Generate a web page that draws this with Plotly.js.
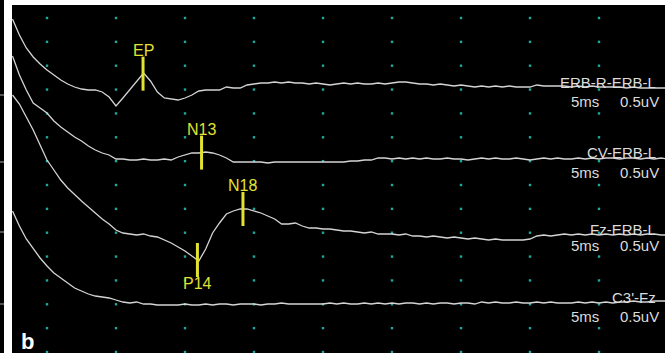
<!DOCTYPE html>
<html>
<head>
<meta charset="utf-8">
<script src="https://cdn.plot.ly/plotly-3.0.1.min.js"></script>
<style>html,body{margin:0;padding:0;background:#fff;}#chart{width:667px;height:353px;}</style>
</head>
<body>
<div id="chart"></div>
<script>
// ---- DATA ----
const timeMs = [-2.5,-2,-1.5,-1,-0.5,0,0.5,1,1.5,2,2.5,3,3.5,4,4.5,5,5.5,6,6.5,7,7.5,8,8.5,9,9.5,10,10.5,11,11.5,12,12.5,13,13.5,14,14.5,15,15.5,16,16.5,17,17.5,18,18.5,19,19.5,20,20.5,21,21.5,22,22.5,23,23.5,24,24.5,25,25.5,26,26.5,27,27.5,28,28.5,29,29.5,30,30.5,31,31.5,32,32.5,33,33.5,34,34.5,35,35.5,36,36.5,37,37.5,38,38.5,39,39.5,40,40.5,41,41.5,42,42.5,43,43.5,44,44.5,45];

const erbR_erbL = [76,60,47,38,31,25,20,15,11,8, 6,5,5,3,-2,-11,-3,5,14,22, 14,3,-3,-4,-5,-3,0,4,5,5, 5,8,7,7,10,11,12,12,13,12, 13,12,12,11,12,11,10,11,12,11, 12,11,11,12,11,12,13,13,12,11, 11,10,11,10,9,10,9,8,9,8, 9,8,9,8,8,8,10,9,9,9, 9,8,9,8,9,8,8,8,8,7, 8,7,7,7,7,7];
const cv_erbL = [106,87,72,59,54,49,41,35,30,25, 21,16,12,9,7,3,3,2,2,3, 2,2,3,2,5,7,9,9,10,9, 7,4,0,0,0,0,0,-1,0,0, 0,0,0,0,0,0,0,0,0,1, 1,2,2,4,4,3,4,3,4,3, 4,3,3,4,3,3,2,3,4,3, 4,3,3,4,3,2,3,4,3,4, 3,3,4,3,4,3,4,4,3,4, 4,3,4,3,4,3];
const fz_erbL = [137,128,115,102,87,72,62,52,44,37, 31,25,19,13,8,2,-1,-2,-3,-2, -4,-5,-8,-11,-15,-19,-24,-29,-17,-1, 9,18,21,23,23,21,19,16,13,8, 8,9,6,4,4,3,3,2,1,1, 0,-1,0,-2,-2,-2,-3,-2,-4,-4, -5,-4,-5,-6,-5,-6,-7,-6,-7,-8, -7,-8,-8,-8,-8,-7,-4,-3,-4,-3, -2,-3,-2,-3,-2,-3,-2,-3,-2,-3, -2,-3,-2,-2,-3,-3];
const c3_fz = [93,78,65,55,46,38,31,26,21,16, 13,10,8,7,6,4,2,1,2,0, 0,-1,-1,-1,-1,0,-1,-1,0,-1, 0,0,-1,0,0,0,-1,0,0,1, 0,0,0,0,0,0,1,0,1,0, 0,1,0,1,0,1,0,1,1,0, 1,0,1,1,0,1,1,0,2,1, 2,1,1,2,1,1,2,1,2,1, 1,1,2,1,2,1,2,1,2,2, 3,2,2,3,3,3];

const channelNames = ['ERB-R-ERB-L', 'CV-ERB-L', 'Fz-ERB-L', "C3'-Fz"];
const timeBaseLabel = '5ms';
const gainLabel = '0.5uV';

const peakNames = ['EP', 'N13', 'P14', 'N18'];
const peakLatencyMs = [6.96, 11.2, 10.9, 14.2];
const peakChannel = [0, 1, 2, 2];
const peakIsPositive = [false, false, true, false];

const panelLetter = 'b';

// ---- DISPLAY SETTINGS ----
const channelData = [erbR_erbL, cv_erbL, fz_erbL, c3_fz];
const channelOffset = [257, 190, 120, 48];       // vertical position of each channel's zero line
const gridTimes = [0, 5, 10, 15, 20, 25, 30, 35, 40];
const gridRows = 15, gridTop = 334;
const X0 = -2.536, X1 = 44.783;
const plotW = 653;
const px = p => (p - 12) / plotW;                // paper x from page pixel

const traceColor = '#d4d4d4';
const yellow = '#e2e232';
const labelColor = '#dcdcdc';
const narrow = '"Liberation Sans Narrow", "Arial Narrow", "Liberation Sans", Arial, sans-serif';
const sans = '"Liberation Sans", Arial, sans-serif';

const data = [];

// grid dots
const gx = [], gy = [];
for (const t of gridTimes) for (let k = 0; k < gridRows; k++) { gx.push(t); gy.push(k * gridTop / (gridRows - 1)); }
data.push({x: gx, y: gy, type: 'scatter', mode: 'markers', hoverinfo: 'skip',
  marker: {symbol: 'square', size: 2.4, color: '#1fa89e', line: {width: 0}}});

// channel traces
channelData.forEach((arr, i) => {
  data.push({x: timeMs, y: arr.map(v => v + channelOffset[i]), type: 'scatter', mode: 'lines',
    line: {color: traceColor, width: 1.3}, hoverinfo: 'skip'});
});

function interp(arr, t) {
  for (let j = 0; j < timeMs.length - 1; j++) {
    if (t >= timeMs[j] && t <= timeMs[j + 1]) {
      const f = (t - timeMs[j]) / (timeMs[j + 1] - timeMs[j]);
      return arr[j] + f * (arr[j + 1] - arr[j]);
    }
  }
  return arr[arr.length - 1];
}

const annotations = [];
const half = 17;
peakNames.forEach((name, i) => {
  const ch = peakChannel[i];
  const c = interp(channelData[ch], peakLatencyMs[i]) + channelOffset[ch];
  data.push({x: [peakLatencyMs[i], peakLatencyMs[i]], y: [c - half, c + half], type: 'scatter', mode: 'lines',
    line: {color: yellow, width: 3}, hoverinfo: 'skip'});
  const ly = peakIsPositive[i] ? c - half - 6.5 : c + half + 6.5;
  annotations.push({x: peakLatencyMs[i], y: ly, xref: 'x', yref: 'y', text: name, showarrow: false,
    xanchor: 'center', yanchor: 'middle', font: {family: narrow, size: 16, color: yellow}});
});

// right-side channel labels
const nameCenterY = [270, 200, 122.5, 54.5];
const scaleCenterY = [250.5, 179.5, 106.5, 35.5];
channelNames.forEach((nm, i) => {
  annotations.push({x: px(658), y: nameCenterY[i], xref: 'paper', yref: 'y', text: nm, showarrow: false,
    xanchor: 'right', yanchor: 'middle', font: {family: sans, size: 15, color: labelColor}});
  annotations.push({x: px(569), y: scaleCenterY[i], xref: 'paper', yref: 'y', text: timeBaseLabel, showarrow: false,
    xanchor: 'left', yanchor: 'middle', font: {family: sans, size: 15, color: labelColor}});
  annotations.push({x: px(661), y: scaleCenterY[i], xref: 'paper', yref: 'y', text: gainLabel, showarrow: false,
    xanchor: 'right', yanchor: 'middle', font: {family: sans, size: 15, color: labelColor}});
});

annotations.push({x: px(27), y: 10.5, xref: 'paper', yref: 'y', text: '<b>' + panelLetter + '</b>', showarrow: false,
  xanchor: 'center', yanchor: 'middle', font: {family: sans, size: 22, color: '#ffffff'}});

const shapes = [
  {type: 'rect', xref: 'paper', yref: 'paper', x0: px(0), x1: px(4), y0: -0.01, y1: 1.02,
   fillcolor: '#000000', line: {width: 0}, layer: 'below'}
];
channelOffset.forEach(o => {
  shapes.push({type: 'line', xref: 'paper', yref: 'y', x0: px(0), x1: px(4), y0: o, y1: o,
    line: {color: '#a8a8a8', width: 1}});
});

const layout = {
  width: 667, height: 353, autosize: false,
  margin: {l: 12, r: 2, t: 5, b: 0, pad: 0},
  paper_bgcolor: '#ffffff', plot_bgcolor: '#000000',
  showlegend: false,
  xaxis: {range: [X0, X1], visible: false, fixedrange: true},
  yaxis: {range: [-1, 347], visible: false, fixedrange: true},
  annotations: annotations,
  shapes: shapes
};

Plotly.newPlot('chart', data, layout, {staticPlot: true, displayModeBar: false});
</script>
</body>
</html>
